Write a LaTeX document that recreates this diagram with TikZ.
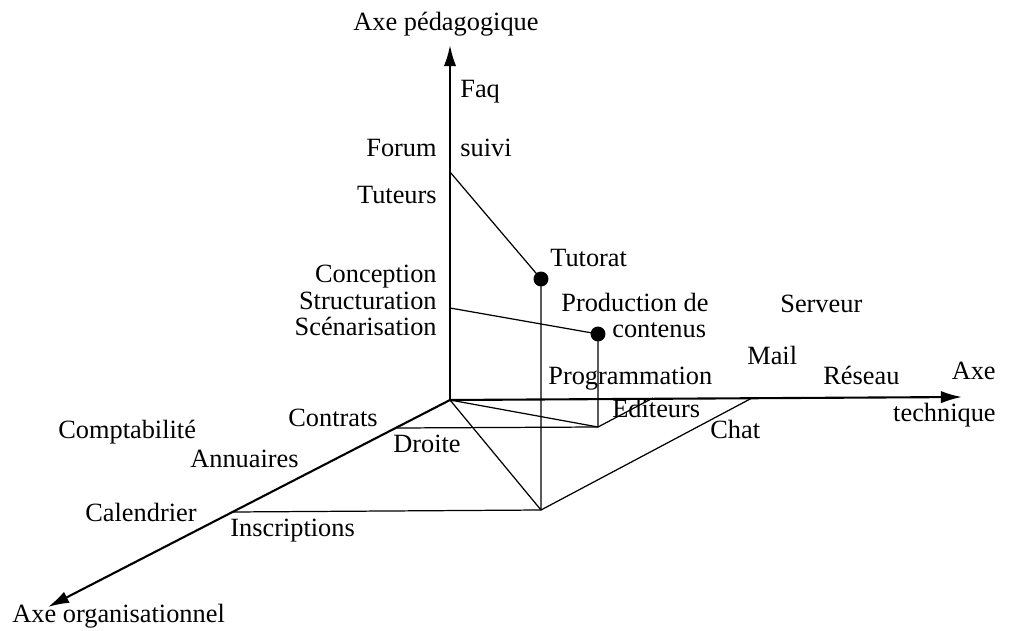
\documentclass[tikz,border=0pt]{standalone}
\usepackage{fontspec}
\setmainfont{Liberation Serif}
\usetikzlibrary{arrows.meta}

\tikzset{
	axis/.style={line width=1.2pt,-{Latex[length=12pt,width=7pt]}},
	link/.style={line width=0.7pt},
	dot/.style={circle,fill,inner sep=0pt,minimum size=8.5pt},
	lbl/.style={inner sep=0pt,text height=0.66em,text depth=0pt,font=\fontsize{15}{18}\selectfont},
}

\begin{document}
\begin{tikzpicture}[x=0.02cm,y=-0.02cm]
	\useasboundingbox (0,0) rectangle (1023,631);

	% axes
	\coordinate (o) at (450,400);
	\coordinate (ped) at (450,45);
	\coordinate (tech) at (962,397);
	\coordinate (org) at (48,607);
	\draw[axis] (o) -- (ped);
	\draw[axis] (o) -- (tech);
	\draw[axis] (o) -- (org);

	% points on the axes
	\coordinate (forumpt) at (450,172);
	\coordinate (structpt) at (450,308);
	\coordinate (contratspt) at (397,428);
	\coordinate (inscrpt) at (232,512);
	\coordinate (editpt) at (653,398);
	\coordinate (chatpt) at (752,398);
	\coordinate (base) at (541,510);
	\coordinate (prodbase) at (598,427);
	\node[dot] (tutoratdot) at (541,279) {};
	\node[dot] (proddot) at (598,334) {};

	\draw[link] (forumpt) -- (tutoratdot.center) -- (base);
	\draw[link] (structpt) -- (proddot.center) -- (prodbase);
	\draw[link] (contratspt) -- (prodbase) -- (editpt);
	\draw[link] (o) -- (prodbase);
	\draw[link] (inscrpt) -- (base) -- (chatpt);
	\draw[link] (o) -- (base);

	% labels
	\node[lbl,anchor=center] (axeped) at (446,25) {Axe pédagogique};
	\node[lbl,anchor=west] (faq) at (460,92) {Faq};
	\node[lbl,anchor=east] (forum) at (437,151) {Forum};
	\node[lbl,anchor=west] (suivi) at (460,151) {suivi};
	\node[lbl,anchor=east] (tuteurs) at (437,198) {Tuteurs};
	\node[lbl,anchor=west] (tutorat) at (550,261) {Tutorat};
	\node[lbl,anchor=east] (conception) at (437,277) {Conception};
	\node[lbl,anchor=east] (structuration) at (437,304) {Structuration};
	\node[lbl,anchor=east] (scenar) at (437,330) {Scénarisation};
	\node[lbl,anchor=west] (production) at (561,306) {Production de};
	\node[lbl,anchor=west] (contenus) at (612,332) {contenus};
	\node[lbl,anchor=west] (serveur) at (780,307) {Serveur};
	\node[lbl,anchor=west] (mail) at (747,359) {Mail};
	\node[lbl,anchor=west] (program) at (548,379) {Programmation};
	\node[lbl,anchor=west] (reseau) at (823,379) {Réseau};
	\node[lbl,anchor=east] (axe) at (996,374) {Axe};
	\node[lbl,anchor=east] (technique) at (996,416) {technique};
	\node[lbl,anchor=west] (editeurs) at (612,412) {Editeurs};
	\node[lbl,anchor=west] (chat) at (710,433) {Chat};
	\node[lbl,anchor=west] (contrats) at (288,421) {Contrats};
	\node[lbl,anchor=west] (compta) at (58,433) {Comptabilité};
	\node[lbl,anchor=west] (droite) at (393,447) {Droite};
	\node[lbl,anchor=west] (annuaires) at (190,462) {Annuaires};
	\node[lbl,anchor=west] (calendrier) at (85,516) {Calendrier};
	\node[lbl,anchor=west] (inscriptions) at (230,531) {Inscriptions};
	\node[lbl,anchor=west] (axeorg) at (12,617) {Axe organisationnel};
\end{tikzpicture}
\end{document}
